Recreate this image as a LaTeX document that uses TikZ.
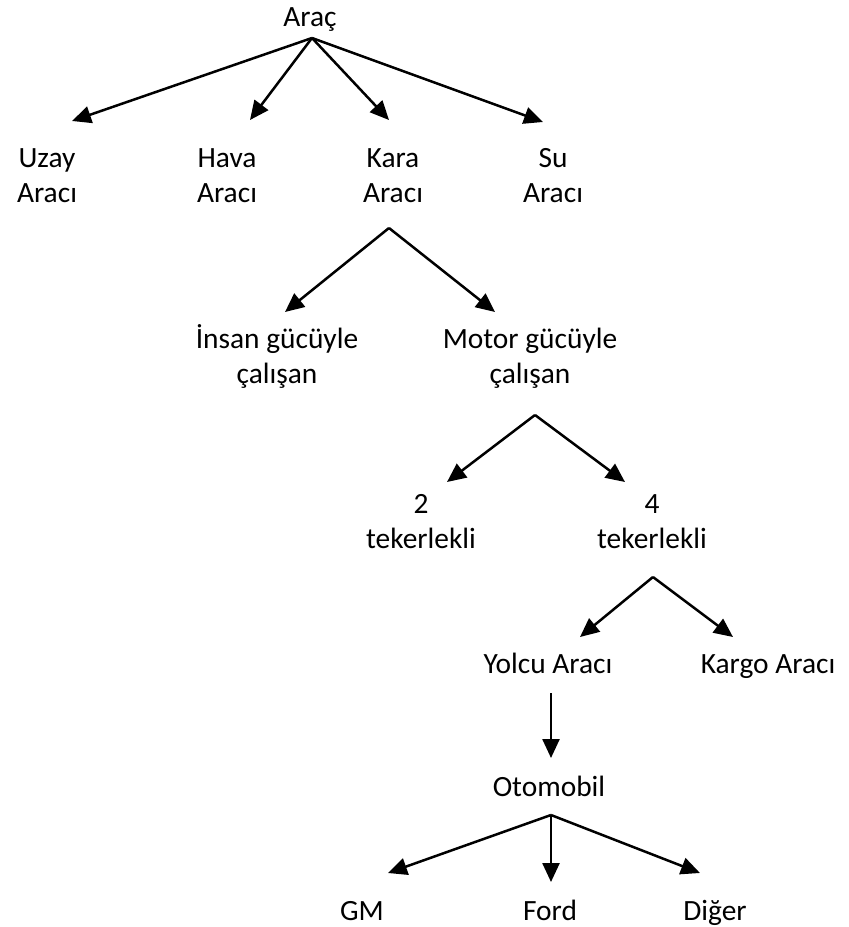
\documentclass[tikz,border=0pt]{standalone}
\usepackage{fontspec}
\setmainfont{Carlito}
\usetikzlibrary{arrows.meta}
\begin{document}
\begin{tikzpicture}[x=0.5pt,y=-0.5pt,
  lbl/.style={inner sep=0pt,align=center,font=\fontsize{14.7}{17.5}\selectfont},
  arr/.style={line width=1.25pt,-{Triangle[length=9.5pt,width=8.5pt]}}]
\useasboundingbox (0,0) rectangle (849,927);
% nodes
\node[lbl] (arac)  at (310,19)    {\strut Araç};
\node[lbl] (uzay)  at (47,177.5)  {\strut Uzay\\\strut Aracı};
\node[lbl] (hava)  at (227,177.5) {\strut Hava\\\strut Aracı};
\node[lbl] (kara)  at (393,177.5) {\strut Kara\\\strut Aracı};
\node[lbl] (su)    at (553,177.5) {\strut Su\\\strut Aracı};
\node[lbl] (insan) at (277,358.5) {\strut İnsan gücüyle\\\strut çalışan};
\node[lbl] (motor) at (530,358.5) {\strut Motor gücüyle\\\strut çalışan};
\node[lbl] (iki)   at (421,523.5) {\strut 2\\\strut tekerlekli};
\node[lbl] (dort)  at (652,523.5) {\strut 4\\\strut tekerlekli};
\node[lbl] (yolcu) at (548,666)   {\strut Yolcu Aracı};
\node[lbl] (kargo) at (768,666)   {\strut Kargo Aracı};
\node[lbl] (oto)   at (549,789)   {\strut Otomobil};
\node[lbl] (gm)    at (362,913)   {\strut GM};
\node[lbl] (ford)  at (550,913)   {\strut Ford};
\node[lbl] (diger) at (715,913)   {\strut Diğer};
% connector ends
\coordinate (j0) at (312,38);
\coordinate (uzayT) at (72,121);
\coordinate (havaT) at (250,120);
\coordinate (karaT) at (389,120);
\coordinate (suT) at (543,122);
\coordinate (j1) at (389,228);
\coordinate (insanT) at (285,312);
\coordinate (motorT) at (495,312);
\coordinate (j2) at (535,415);
\coordinate (ikiT) at (447,482);
\coordinate (dortT) at (625,482);
\coordinate (j3) at (653,577);
\coordinate (yolcuT) at (580,637);
\coordinate (kargoT) at (733,637);
\coordinate (j4) at (551,693);
\coordinate (otoT) at (551,758);
\coordinate (j5) at (551,815);
\coordinate (gmT) at (388,873);
\coordinate (fordT) at (551,882);
\coordinate (digerT) at (700,873);
% connectors
\draw[arr] (j0) -- (uzayT);
\draw[arr] (j0) -- (havaT);
\draw[arr] (j0) -- (karaT);
\draw[arr] (j0) -- (suT);
\draw[arr] (j1) -- (insanT);
\draw[arr] (j1) -- (motorT);
\draw[arr] (j2) -- (ikiT);
\draw[arr] (j2) -- (dortT);
\draw[arr] (j3) -- (yolcuT);
\draw[arr] (j3) -- (kargoT);
\draw[arr] (j4) -- (otoT);
\draw[arr] (j5) -- (gmT);
\draw[arr] (j5) -- (fordT);
\draw[arr] (j5) -- (digerT);
\end{tikzpicture}
\end{document}
